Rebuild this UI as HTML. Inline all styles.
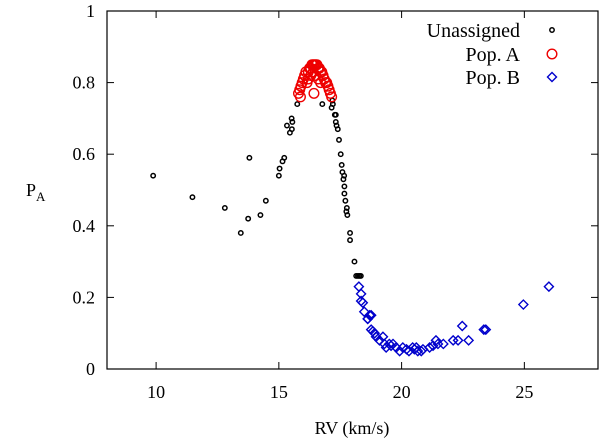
<!DOCTYPE html>
<html><head><meta charset="utf-8"><style>
html,body{margin:0;padding:0;background:#fff;width:600px;height:442px;overflow:hidden}
svg text{font-family:"Liberation Serif",serif;fill:#000}
</style></head><body>
<svg id="chart" width="600" height="442" viewBox="0 0 600 442" xmlns="http://www.w3.org/2000/svg">
<g id="axes"></g><g id="marks"></g><g id="legend"></g>
</svg>
<script>
const xTicks=[10,15,20,25];
const yTicks=[0,0.2,0.4,0.6,0.8,1];
const yTickLabels=["0","0.2","0.4","0.6","0.8","1"];
const unassignedX=[9.88,11.48,12.8,13.45,13.75,13.8,14.25,14.47,15.0,15.03,15.15,15.22,15.33,15.45,15.53,15.52,15.55,15.75,16.77,17.15,17.2,17.18,17.28,17.32,17.32,17.35,17.4,17.45,17.52,17.56,17.59,17.66,17.63,17.67,17.67,17.71,17.77,17.75,17.79,17.9,17.9,18.08,18.15,18.22,18.28,18.34];
const unassignedY=[0.54,0.48,0.45,0.38,0.42,0.59,0.43,0.47,0.54,0.56,0.58,0.59,0.68,0.66,0.67,0.70,0.69,0.74,0.74,0.73,0.74,0.75,0.71,0.71,0.69,0.68,0.67,0.64,0.60,0.57,0.55,0.54,0.53,0.51,0.49,0.47,0.45,0.44,0.43,0.38,0.36,0.30,0.26,0.26,0.26,0.26];
const popAX=[15.8,15.88,16.43,17.15,15.85,15.9,15.95,16.0,16.05,16.1,16.15,16.2,16.25,16.3,16.35,16.4,16.45,16.5,16.55,16.6,16.65,16.7,16.75,16.8,16.85,16.9,16.95,17.0,17.05,17.1,16.3,16.5,16.6,16.4,16.7,16.2];
const popAY=[0.77,0.76,0.77,0.76,0.78,0.79,0.80,0.81,0.82,0.83,0.80,0.83,0.84,0.84,0.85,0.85,0.85,0.85,0.85,0.84,0.84,0.83,0.83,0.82,0.81,0.80,0.80,0.79,0.78,0.77,0.82,0.82,0.81,0.83,0.80,0.81];
const popBX=[18.26,18.35,18.35,18.42,18.48,18.62,18.7,18.76,18.62,18.76,18.83,18.9,18.96,19.1,19.24,19.3,19.37,19.5,19.57,19.65,19.78,19.92,20.05,20.2,20.3,20.45,20.52,20.6,20.66,20.8,20.87,21.14,21.28,21.4,21.48,21.7,22.1,22.3,22.47,22.73,23.35,23.43,24.96,26.0];
const popBY=[0.23,0.21,0.19,0.185,0.16,0.14,0.15,0.15,0.14,0.11,0.105,0.10,0.09,0.08,0.09,0.07,0.06,0.07,0.065,0.07,0.06,0.05,0.06,0.055,0.05,0.06,0.055,0.06,0.05,0.05,0.055,0.06,0.065,0.08,0.07,0.07,0.08,0.08,0.12,0.08,0.11,0.11,0.18,0.23];

const L=107,R=598,T=11,B=369,X0=8,X1=28,Y0=0,Y1=1;
const sx=v=>L+(v-X0)/(X1-X0)*(R-L);
const sy=v=>B-(v-Y0)/(Y1-Y0)*(B-T);
const NS="http://www.w3.org/2000/svg";
function mk(tag,attrs,parent,txt){const e=document.createElementNS(NS,tag);for(const k in attrs)e.setAttribute(k,attrs[k]);if(txt!=null)e.textContent=txt;parent.appendChild(e);return e;}
const axes=document.getElementById('axes'),marks=document.getElementById('marks'),leg=document.getElementById('legend');
const frame=mk('rect',{x:L,y:T,width:R-L,height:B-T,fill:'none',stroke:'#000','stroke-width':1.2},axes);


xTicks.forEach(v=>{
  const x=sx(v);
  mk('line',{x1:x,y1:B,x2:x,y2:B-7,stroke:'#000'},axes);
  mk('line',{x1:x,y1:T,x2:x,y2:T+7,stroke:'#000'},axes);
  const t=mk('text',{x:x,y:B+29,'text-anchor':'middle','font-size':18},axes,String(v));
  
  
});
yTicks.forEach((v,i)=>{
  const y=sy(v);
  mk('line',{x1:L,y1:y,x2:L+7,y2:y,stroke:'#000'},axes);
  mk('line',{x1:R,y1:y,x2:R-7,y2:y,stroke:'#000'},axes);
  const t=mk('text',{x:L-12,y:y+6,'text-anchor':'end','font-size':18},axes,yTickLabels[i]);
  
  
});
const xt=mk('text',{x:352,y:434,'text-anchor':'middle','font-size':18},axes,'RV (km/s)');


const yt=mk('text',{x:26,y:196,'font-size':18},axes,'P');


mk('tspan',{dy:5,'font-size':13},yt,'A');

function circle(x,y,r,c,w,name){const e=mk('circle',{cx:x,cy:y,r:r,fill:'none',stroke:c,'stroke-width':w},marks);

return e;}
function diamond(x,y,s,c,name,parent){const e=mk('polygon',{points:`${x},${y-s} ${x+s},${y} ${x},${y+s} ${x-s},${y}`,fill:'none',stroke:c,'stroke-width':1.4},parent||marks);

return e;}
unassignedX.forEach((v,i)=>circle(sx(v),sy(unassignedY[i]),2.2,'#000',1.5,'unassigned-point'));
popAX.forEach((v,i)=>circle(sx(v),sy(popAY[i]),4.8,'#e00',1.4,'pop-a-point'));
popBX.forEach((v,i)=>diamond(sx(v),sy(popBY[i]),4.5,'#00c','pop-b-point'));

const entries=[["Unassigned",30],["Pop. A",54],["Pop. B",77]];
entries.forEach((e,i)=>{
  const t=mk('text',{x:520,y:e[1]+7,'text-anchor':'end','font-size':20},leg,e[0]);
  
  
});
const l1=mk('circle',{cx:552,cy:30,r:2.2,fill:'none',stroke:'#000','stroke-width':1.5},leg);


const l2=mk('circle',{cx:552,cy:54,r:4.8,fill:'none',stroke:'#e00','stroke-width':1.4},leg);


diamond(552,77,4.5,'#00c','legend-pop-b-symbol',leg);
</script>
</body></html>
